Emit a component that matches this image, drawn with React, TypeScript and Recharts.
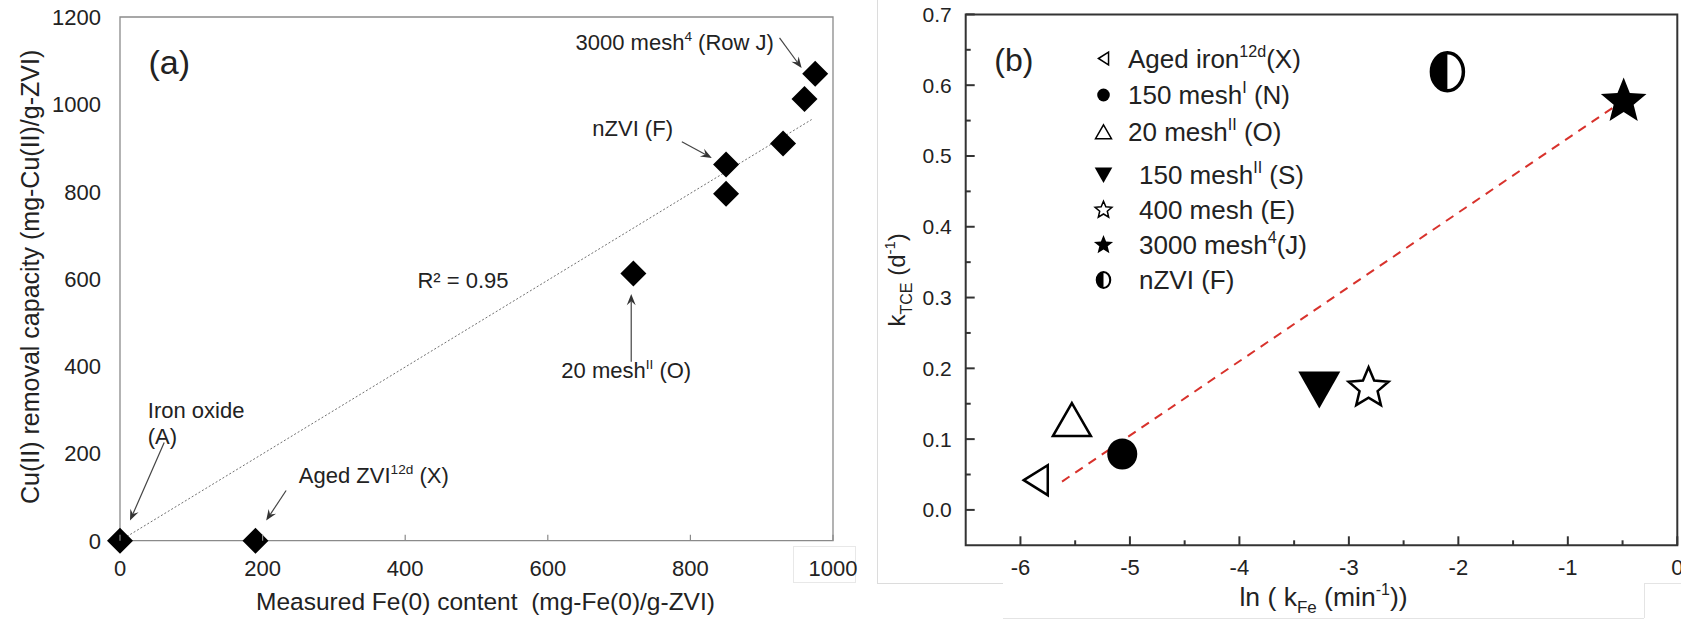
import React from 'react';
import { ScatterChart, Scatter, XAxis, YAxis, ReferenceLine, ReferenceArea, Legend } from 'recharts';

const FONT = '"Liberation Sans", Arial, Helvetica, sans-serif';

// ---- panel (a): measured Fe(0) vs Cu(II) removal capacity
const fe0Content = [0, 190, 720, 850, 850, 930, 960, 975];
const cuRemoval = [0, 0, 612, 795, 862, 910, 1012, 1070];
const trendFe = [0, 970];
const trendCu = [0, 965];
const ticksFe = [0, 200, 400, 600, 800, 1000];
const ticksCu = [0, 200, 400, 600, 800, 1000, 1200];

// text notes on panel (a), in data units
const notesA = [
  { x: 778, y: 1143, text: '3000 mesh', sup: '4', tail: ' (Row J)', anchor: 'middle' },
  { x: 719, y: 946, text: 'nZVI (F)', sup: '', tail: '', anchor: 'middle' },
  { x: 481, y: 597, text: 'R² = 0.95', sup: '', tail: '', anchor: 'middle' },
  { x: 710, y: 391, text: '20 mesh', sup: 'II', tail: ' (O)', anchor: 'middle' },
  { x: 39, y: 300, text: 'Iron oxide', sup: '', tail: '', anchor: 'start' },
  { x: 39, y: 240, text: '(A)', sup: '', tail: '', anchor: 'start' },
  { x: 356, y: 151, text: 'Aged ZVI', sup: '12d', tail: ' (X)', anchor: 'middle' },
];
const arrowsA = [
  { from: { x: 925, y: 1152 }, to: { x: 956, y: 1083 } },
  { from: { x: 788, y: 914 }, to: { x: 830, y: 877 } },
  { from: { x: 717, y: 410 }, to: { x: 717, y: 565 } },
  { from: { x: 62, y: 225 }, to: { x: 14, y: 46 } },
  { from: { x: 233, y: 115 }, to: { x: 205, y: 46 } },
];

// ---- panel (b): ln(kFe) vs kTCE
const materials = ['Aged iron', '150 mesh', '20 mesh', '150 mesh', '400 mesh', '3000 mesh', 'nZVI'];
const materialSup = ['12d', 'I', 'II', 'II', '', '4', ''];
const materialTag = ['(X)', ' (N)', ' (O)', ' (S)', ' (E)', '(J)', ' (F)'];
const symbolsB = ['left', 'circle', 'up', 'down', 'starOpen', 'star', 'half'];
const lnKFe = [-5.86, -5.07, -5.53, -3.27, -2.82, -0.49, -2.1];
const kTCE = [0.042, 0.079, 0.127, 0.17, 0.172, 0.577, 0.619];
const fitLnK = [-5.62, -0.585];
const fitK = [0.04, 0.5685];
const ticksLnK = [-6, -5.5, -5, -4.5, -4, -3.5, -3, -2.5, -2, -1.5, -1, -0.5, 0];
const ticksK = [0, 0.05, 0.1, 0.15, 0.2, 0.25, 0.3, 0.35, 0.4, 0.45, 0.5, 0.55, 0.6, 0.65, 0.7];

const dataA = fe0Content.map((x, i) => ({ x, y: cuRemoval[i] }));

const Rich = ({ x, y, size, anchor, text, sup, tail }: any) => (
  <text x={x} y={y} fontSize={size} textAnchor={anchor} fontFamily={FONT} fill="#222" style={{ whiteSpace: 'pre' }}>
    {text}
    {sup ? (
      <tspan dy={-size * 0.42} fontSize={size * 0.62}>
        {sup}
      </tspan>
    ) : null}
    {tail ? <tspan dy={sup ? size * 0.42 : 0}>{tail}</tspan> : null}
  </text>
);

const Diamond = ({ cx, cy }: any) => (
  <path d={`M${cx},${cy - 13} L${cx + 13},${cy} L${cx},${cy + 13} L${cx - 13},${cy} Z`} fill="#000" />
);

const Arrow = (p: any) => {
  const { x1, y1, x2, y2 } = p;
  const a = Math.atan2(y2 - y1, x2 - x1);
  const L = 12;
  const w = 0.38;
  const ax = x2 - L * Math.cos(a - w);
  const ay = y2 - L * Math.sin(a - w);
  const bx = x2 - L * Math.cos(a + w);
  const by = y2 - L * Math.sin(a + w);
  const nx = x2 - L * 0.6 * Math.cos(a);
  const ny = y2 - L * 0.6 * Math.sin(a);
  return (
    <g>
      <line x1={x1} y1={y1} x2={nx} y2={ny} stroke="#444" strokeWidth={1.2} />
      <path d={`M${ax},${ay} L${x2},${y2} L${bx},${by} L${nx},${ny} Z`} fill="#333" />
    </g>
  );
};

const TickXA = ({ x, y, payload }: any) => (
  <g>
    <line x1={x} y1={y} x2={x} y2={y - 6} stroke="#8a8a8a" strokeWidth={1.2} />
    <text x={x} y={y + 35} textAnchor="middle" fontSize={22} fill="#222" fontFamily={FONT}>
      {payload.value}
    </text>
  </g>
);

const TickYA = ({ x, y, payload }: any) => (
  <text x={x - 19} y={y + 8} textAnchor="end" fontSize={22} fill="#222" fontFamily={FONT}>
    {payload.value}
  </text>
);

const TickXB = ({ x, y, payload }: any) => {
  const major = Number.isInteger(payload.value);
  return (
    <g>
      <line x1={x} y1={y} x2={x} y2={y - (major ? 9 : 5)} stroke="#333" strokeWidth={2} />
      {major ? (
        <text x={x} y={y + 30} textAnchor="middle" fontSize={22} fill="#222" fontFamily={FONT}>
          {payload.value}
        </text>
      ) : null}
    </g>
  );
};

const TickYB = ({ x, y, payload }: any) => {
  const v = payload.value;
  const major = Math.abs(v * 10 - Math.round(v * 10)) < 1e-6;
  return (
    <g>
      <line x1={x} y1={y} x2={x + (major ? 9 : 5)} y2={y} stroke="#333" strokeWidth={2} />
      {major ? (
        <text x={x - 14} y={y + 7.5} textAnchor="end" fontSize={21} fill="#222" fontFamily={FONT}>
          {v.toFixed(1)}
        </text>
      ) : null}
    </g>
  );
};

const starPath = (cx: number, cy: number, R: number, r: number) => {
  let d = '';
  for (let i = 0; i < 10; i++) {
    const ang = (-90 + i * 36) * (Math.PI / 180);
    const rad = i % 2 === 0 ? R : r;
    d += `${i === 0 ? 'M' : 'L'}${cx + rad * Math.cos(ang)},${cy + rad * Math.sin(ang)} `;
  }
  return d + 'Z';
};

const drawSymbol = (kind: string, cx: number, cy: number, s: number) => {
  switch (kind) {
    case 'left':
      return (
        <path d={`M${cx - 12 * s},${cy} L${cx + 12 * s},${cy - 15 * s} L${cx + 12 * s},${cy + 15 * s} Z`}
          fill="#fff" stroke="#000" strokeWidth={2.5 * Math.max(s, 0.6)} strokeLinejoin="miter" />
      );
    case 'circle':
      return <ellipse cx={cx} cy={cy} rx={15 * s} ry={15.5 * s} fill="#000" />;
    case 'up':
      return (
        <path d={`M${cx},${cy - 17 * s} L${cx + 19 * s},${cy + 16 * s} L${cx - 19 * s},${cy + 16 * s} Z`}
          fill="#fff" stroke="#000" strokeWidth={2.5 * Math.max(s, 0.6)} />
      );
    case 'down':
      return (
        <path d={`M${cx - 21 * s},${cy - 18 * s} L${cx + 21 * s},${cy - 18 * s} L${cx},${cy + 19 * s} Z`} fill="#000" />
      );
    case 'starOpen':
      return <path d={starPath(cx, cy, 21 * s, 9.5 * s)} fill="#fff" stroke="#000" strokeWidth={2.5 * Math.max(s, 0.6)} />;
    case 'star':
      return <path d={starPath(cx, cy, 24 * s, 10.5 * s)} fill="#000" />;
    default:
      return (
        <g>
          <ellipse cx={cx} cy={cy} rx={16 * s} ry={19 * s} fill="#fff" stroke="#000" strokeWidth={3.5 * Math.max(s, 0.6)} />
          <path d={`M${cx},${cy - 19 * s} A${16 * s},${19 * s} 0 0 0 ${cx},${cy + 19 * s} Z`} fill="#000" />
        </g>
      );
  }
};

const legendRows = [23.5, 60, 97, 140, 175, 210, 245];

const LegendB = () => (
  <svg width={300} height={270} style={{ overflow: 'visible' }}>
    {materials.map((m, i) => (
      <g key={i}>
        {drawSymbol(symbolsB[i], 23.5, legendRows[i], 0.42)}
        <Rich x={i < 3 ? 48 : 59} y={legendRows[i] + 9} size={26} anchor="start"
          text={m} sup={materialSup[i]} tail={materialTag[i]} />
      </g>
    ))}
  </svg>
);

const line = (x: number, y: number, w: number, h: number, color = '#dcdcdc') => (
  <div style={{ position: 'absolute', left: x, top: y, width: w, height: h, background: color }} />
);

export default function App() {
  return (
    <div style={{ position: 'absolute', left: 0, top: 0, width: 1681, height: 627, background: '#fff', overflow: 'hidden' }}>
      {/* scan frame remnants */}
      {line(877, 0, 1, 583)}
      {line(877, 583, 126, 1)}
      {line(1003, 618, 641, 1, '#e4e4e4')}
      {line(1644, 583, 1, 35, '#e4e4e4')}
      {line(1644, 583, 37, 1, '#e4e4e4')}
      <div style={{ position: 'absolute', left: 793, top: 546, width: 63, height: 37, border: '1px solid #e8e8e8', boxSizing: 'border-box' }} />

      <div style={{ position: 'absolute', left: 0, top: 0 }}>
        <ScatterChart width={860} height={627} margin={{ top: 17, right: 27, bottom: 85.3, left: 119 }}>
          <XAxis type="number" dataKey="x" domain={[0, 1000]} ticks={ticksFe} height={1} axisLine={false}
            tickLine={false} tickSize={0} tickMargin={0} interval={0} tick={TickXA}
            label={(p: any) => {
              const vb = p.viewBox;
              return (
                <text x={vb.x + vb.width / 2 + 9} y={vb.y + 69} textAnchor="middle" fontSize={24.5} fill="#222"
                  fontFamily={FONT} style={{ whiteSpace: 'pre' }}>
                  Measured Fe(0) content  (mg-Fe(0)/g-ZVI)
                </text>
              );
            }} />
          <YAxis type="number" dataKey="y" domain={[0, 1200]} ticks={ticksCu} width={1} axisLine={false}
            tickLine={false} tickSize={0} tickMargin={0} interval={0} tick={TickYA}
            label={(p: any) => {
              const vb = p.viewBox;
              const cx = vb.x + vb.width - 90;
              const cy = vb.y + vb.height / 2 - 2;
              return (
                <text x={cx} y={cy} transform={`rotate(-90 ${cx} ${cy})`} textAnchor="middle" dominantBaseline="central"
                  fontSize={25} fill="#222" fontFamily={FONT}>
                  Cu(II) removal capacity (mg-Cu(II)/g-ZVI)
                </text>
              );
            }} />
          <ReferenceArea x1={0} x2={1000} y1={0} y2={1200} fill="#fff" fillOpacity={0} stroke="#8a8a8a" strokeWidth={1.3} />
          <ReferenceLine segment={[{ x: trendFe[0], y: trendCu[0] }, { x: trendFe[1], y: trendCu[1] }]}
            stroke="#707070" strokeWidth={1} strokeDasharray="2 2" />
          {arrowsA.map((a, i) => (
            <ReferenceLine key={i} segment={[a.from, a.to]} stroke="#444" shape={Arrow} />
          ))}
          <Scatter data={dataA} isAnimationActive={false} shape={Diamond} />
          <Scatter data={notesA} isAnimationActive={false}
            shape={(p: any) => <Rich x={p.cx} y={p.cy + 8} size={22} anchor={p.payload.anchor}
              text={p.payload.text} sup={p.payload.sup} tail={p.payload.tail} />} />
          <Scatter data={[{ x: 69, y: 1097 }]} isAnimationActive={false}
            shape={(p: any) => (
              <text x={p.cx} y={p.cy + 12} textAnchor="middle" fontSize={34} fill="#222" fontFamily={FONT}>(a)</text>
            )} />
        </ScatterChart>
      </div>

      <div style={{ position: 'absolute', left: 860, top: 0 }}>
        <ScatterChart width={821} height={627} margin={{ top: 14.4, right: 3.7, bottom: 80.7, left: 104.7 }}>
          <XAxis type="number" dataKey="x" domain={[-6.5, 0]} ticks={ticksLnK} height={1} axisLine={false}
            tickLine={false} tickSize={0} tickMargin={0} interval={0} tick={TickXB}
            label={(p: any) => {
              const vb = p.viewBox;
              return (
                <text x={vb.x + vb.width / 2 + 2} y={vb.y + 61} textAnchor="middle" fontSize={26.5} fill="#222"
                  fontFamily={FONT} style={{ whiteSpace: 'pre' }}>
                  {'ln ( k'}
                  <tspan dy={7} fontSize={17}>Fe</tspan>
                  <tspan dy={-7}>{' (min'}</tspan>
                  <tspan dy={-11} fontSize={16}>-1</tspan>
                  <tspan dy={11}>))</tspan>
                </text>
              );
            }} />
          <YAxis type="number" dataKey="y" domain={[-0.05, 0.7]} ticks={ticksK} width={1} axisLine={false}
            tickLine={false} tickSize={0} tickMargin={0} interval={0} tick={TickYB}
            label={(p: any) => {
              const vb = p.viewBox;
              const cx = vb.x + vb.width - 69;
              const cy = vb.y + vb.height / 2;
              return (
                <text x={cx} y={cy + 8} transform={`rotate(-90 ${cx} ${cy})`} textAnchor="middle"
                  fontSize={24} fill="#222" fontFamily={FONT} style={{ whiteSpace: 'pre' }}>
                  k
                  <tspan dy={7} fontSize={16}>TCE</tspan>
                  <tspan dy={-7}>{' (d'}</tspan>
                  <tspan dy={-10} fontSize={15}>-1</tspan>
                  <tspan dy={10}>)</tspan>
                </text>
              );
            }} />
          <ReferenceArea x1={-6.5} x2={0} y1={-0.05} y2={0.7} fill="#fff" fillOpacity={0} stroke="#333" strokeWidth={2} />
          <ReferenceLine segment={[{ x: fitLnK[0], y: fitK[0] }, { x: fitLnK[1], y: fitK[1] }]}
            stroke="#d8322c" strokeWidth={2} strokeDasharray="9 7" />
          {materials.map((m, i) => (
            <Scatter key={i} name={m} data={[{ x: lnKFe[i], y: kTCE[i] }]} isAnimationActive={false}
              shape={(p: any) => drawSymbol(symbolsB[i], p.cx, p.cy, 1)} />
          ))}
          <Scatter data={[{ x: -6.06, y: 0.636 }]} isAnimationActive={false}
            shape={(p: any) => (
              <text x={p.cx} y={p.cy + 11} textAnchor="middle" fontSize={32} fill="#222" fontFamily={FONT}>(b)</text>
            )} />
          <Legend layout="vertical" align="center" verticalAlign="middle" content={LegendB}
            wrapperStyle={{ left: 220, top: 35, width: 300, height: 270 }} />
        </ScatterChart>
      </div>
    </div>
  );
}
